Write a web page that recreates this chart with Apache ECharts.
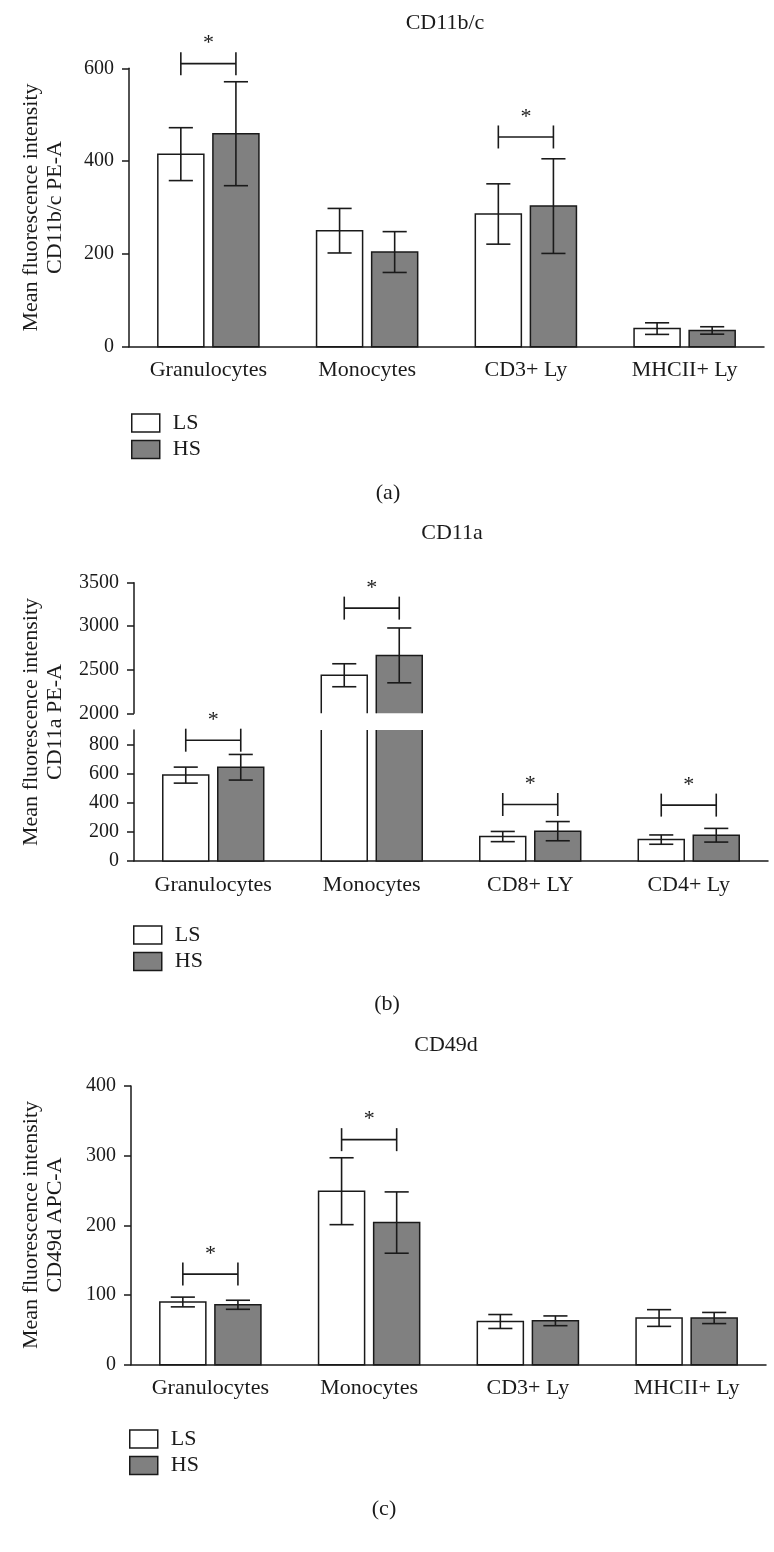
<!DOCTYPE html>
<html><head><meta charset="utf-8">
<script src="https://cdn.jsdelivr.net/npm/echarts@6/dist/echarts.min.js"></script>
<style>html,body{margin:0;padding:0;background:#fff}#c{width:774px;height:1552px}</style>
</head><body><div id="c"></div>
<script>
// ---------- data ----------
const catsA = ['Granulocytes', 'Monocytes', 'CD3+ Ly', 'MHCII+ Ly'];
const lsA = [415, 250, 286, 39];
const lsErrA = [57, 48, 65, 12.5];
const hsA = [459, 204, 303, 35];
const hsErrA = [112, 44, 102, 8];
const sigCatsA = [0, 2];
const sigLevelA = [610, 452];

const catsB = ['Granulocytes', 'Monocytes', 'CD8+ LY', 'CD4+ Ly'];
const lsB = [590, 2437, 168, 147];
const lsErrB = [55, 132, 35, 32];
const hsB = [644, 2665, 205, 177];
const hsErrB = [88, 315, 66, 47];
const sigCatsBLow = [0, 2, 3];
const sigLevelBLow = [830, 388, 384];
const sigCatsBUp = [1];
const sigLevelBUp = [3208];

const catsC = ['Granulocytes', 'Monocytes', 'CD3+ Ly', 'MHCII+ Ly'];
const lsC = [90, 249, 62, 67];
const lsErrC = [7, 48, 10, 12];
const hsC = [86, 204, 63, 67];
const hsErrC = [6.5, 44, 7, 8];
const sigCatsC = [0, 1];
const sigLevelC = [130, 323];

const ticksA = [0, 200, 400, 600];
const ticksBUp = [2000, 2500, 3000, 3500];
const ticksBLow = [0, 200, 400, 600, 800];
const ticksC = [0, 100, 200, 300, 400];

// ---------- style ----------
const FONT = 'Liberation Serif';
const INK = '#1a1a1a';
const GRAY = '#808080';
const OFF = 0.1735, BW = 0.29, CAP = 0.152, TICKH = 11.5;

function barSeries(name, g, vals, sign, fill, lo, hi) {
  return {
    type: 'custom', name, xAxisIndex: g, yAxisIndex: g, clip: false, silent: true, z: 3,
    itemStyle: { color: fill, borderColor: INK, borderWidth: 1.5 },
    data: vals.map((v, i) => [i, v]),
    renderItem(params, api) {
      const i = api.value(0), v = api.value(1);
      if (v <= lo) return null;
      const base = Math.max(0, lo), top = Math.min(v, hi);
      const band = api.size([1, 0])[0];
      const b = api.coord([i, base]), t = api.coord([i, top]);
      const cx = b[0] + sign * band * OFF, w = band * BW;
      const L = cx - w / 2, R = cx + w / 2, yb = b[1], yt = t[1];
      const openB = lo > 0, openT = v > hi;
      const ch = [];
      const ls = { stroke: INK, lineWidth: 1.5, fill: null };
      if (!openB && !openT) {
        ch.push({ type: 'rect', shape: { x: L, y: yt, width: w, height: yb - yt }, style: { fill, stroke: INK, lineWidth: 1.5 } });
      } else {
        ch.push({ type: 'rect', shape: { x: L, y: yt, width: w, height: yb - yt }, style: { fill, stroke: null } });
        let lines;
        if (!openT) lines = [[[L, yb], [L, yt], [R, yt], [R, yb]]];
        else if (!openB) lines = [[[L, yt], [L, yb], [R, yb], [R, yt]]];
        else lines = [[[L, yt], [L, yb]], [[R, yt], [R, yb]]];
        lines.forEach(p => ch.push({ type: 'polyline', shape: { points: p }, style: ls }));
      }
      return { type: 'group', children: ch };
    }
  };
}

function errSeries(g, means, errs, sign, lo, hi) {
  return {
    type: 'custom', xAxisIndex: g, yAxisIndex: g, clip: false, silent: true, z: 4,
    data: means.map((m, i) => [i, m, errs[i]]),
    renderItem(params, api) {
      const i = api.value(0), m = api.value(1), e = api.value(2);
      if (m < lo || m > hi) return null;
      const band = api.size([1, 0])[0];
      const t = api.coord([i, m + e]), b = api.coord([i, m - e]);
      const x = t[0] + sign * band * OFF, c = band * CAP / 2;
      const st = { stroke: INK, lineWidth: 1.6, fill: null };
      return { type: 'group', children: [
        { type: 'line', shape: { x1: x, y1: t[1], x2: x, y2: b[1] }, style: st },
        { type: 'line', shape: { x1: x - c, y1: t[1], x2: x + c, y2: t[1] }, style: st },
        { type: 'line', shape: { x1: x - c, y1: b[1], x2: x + c, y2: b[1] }, style: st }
      ] };
    }
  };
}

function sigSeries(g, cats, levels) {
  return {
    type: 'custom', xAxisIndex: g, yAxisIndex: g, clip: false, silent: true, z: 5,
    data: cats.map((c, k) => [c, levels[k]]),
    renderItem(params, api) {
      const p = api.coord([api.value(0), api.value(1)]);
      const band = api.size([1, 0])[0];
      const x1 = p[0] - band * OFF, x2 = p[0] + band * OFF, y = p[1];
      const st = { stroke: INK, lineWidth: 1.6, fill: null };
      return { type: 'group', children: [
        { type: 'line', shape: { x1, y1: y, x2, y2: y }, style: st },
        { type: 'line', shape: { x1, y1: y - TICKH, x2: x1, y2: y + TICKH }, style: st },
        { type: 'line', shape: { x1: x2, y1: y - TICKH, x2, y2: y + TICKH }, style: st },
        { type: 'text', style: { text: '*', x: p[0], y: y - 20, align: 'center', verticalAlign: 'middle', font: '22px "' + FONT + '"', fill: INK } }
      ] };
    }
  };
}

function xAxis(g, cats, show) {
  return {
    type: 'category', gridIndex: g, data: cats, show,
    axisLine: { lineStyle: { color: INK, width: 1.5 } },
    axisTick: { alignWithLabel: true, length: 6, lineStyle: { color: INK, width: 1.5 } },
    axisLabel: { fontFamily: FONT, fontSize: 22, color: INK, margin: 13 }
  };
}
function yAxis(g, ticks, max, hideMax) {
  return {
    type: 'value', gridIndex: g, min: ticks[0], max, interval: ticks[1] - ticks[0],
    splitLine: { show: false },
    axisLine: { show: true, lineStyle: { color: INK, width: 1.5 } },
    axisTick: { show: true, length: 7, lineStyle: { color: INK, width: 1.5 } },
    axisLabel: { fontFamily: FONT, fontSize: 20, color: INK, margin: 15, showMaxLabel: !hideMax,
      formatter: v => String(v) }
  };
}

function legend(left, top) {
  return {
    left, top, orient: 'vertical', padding: 0, itemGap: 4.5, itemWidth: 28, itemHeight: 18,
    icon: 'rect', selectedMode: false,
    textStyle: { fontFamily: FONT, fontSize: 22, color: INK, lineHeight: 18, padding: [0, 0, 0, 8] },
    data: [
      { name: 'LS', itemStyle: { color: '#ffffff', borderColor: INK, borderWidth: 1.5 } },
      { name: 'HS', itemStyle: { color: GRAY, borderColor: INK, borderWidth: 1.5 } }
    ]
  };
}

function txt(text, x, y, size, rot) {
  return { type: 'text', x, y, rotation: rot || 0,
    style: { text, fontFamily: FONT, fontSize: size, fill: INK, align: 'center', verticalAlign: 'middle', lineHeight: 24 } };
}

const option = {
  animation: false,
  backgroundColor: '#ffffff',
  grid: [
    { left: 129, top: 68.3, width: 635, height: 278.4 },
    { left: 134, top: 582.7, width: 634, height: 130.6 },
    { left: 134, top: 730, width: 634, height: 131 },
    { left: 131, top: 1086, width: 635, height: 278.7 }
  ],
  xAxis: [xAxis(0, catsA, true), xAxis(1, catsB, false), xAxis(2, catsB, true), xAxis(3, catsC, true)],
  yAxis: [yAxis(0, ticksA, 600), yAxis(1, ticksBUp, 3500), yAxis(2, ticksBLow, 900, true), yAxis(3, ticksC, 400)],
  legend: [legend(131, 412), legend(133, 924), legend(129, 1428)],
  series: [
    barSeries('LS', 0, lsA, -1, '#ffffff', 0, 600),
    barSeries('HS', 0, hsA, 1, GRAY, 0, 600),
    errSeries(0, lsA, lsErrA, -1, 0, 600),
    errSeries(0, hsA, hsErrA, 1, 0, 600),
    sigSeries(0, sigCatsA, sigLevelA),

    barSeries('LS', 1, lsB, -1, '#ffffff', 2000, 3500),
    barSeries('HS', 1, hsB, 1, GRAY, 2000, 3500),
    errSeries(1, lsB, lsErrB, -1, 2000, 3500),
    errSeries(1, hsB, hsErrB, 1, 2000, 3500),
    sigSeries(1, sigCatsBUp, sigLevelBUp),
    barSeries('LS', 2, lsB, -1, '#ffffff', 0, 900),
    barSeries('HS', 2, hsB, 1, GRAY, 0, 900),
    errSeries(2, lsB, lsErrB, -1, 0, 900),
    errSeries(2, hsB, hsErrB, 1, 0, 900),
    sigSeries(2, sigCatsBLow, sigLevelBLow),

    barSeries('LS', 3, lsC, -1, '#ffffff', 0, 400),
    barSeries('HS', 3, hsC, 1, GRAY, 0, 400),
    errSeries(3, lsC, lsErrC, -1, 0, 400),
    errSeries(3, hsC, hsErrC, 1, 0, 400),
    sigSeries(3, sigCatsC, sigLevelC)
  ],
  graphic: [
    txt('CD11b/c', 445, 23, 22),
    txt('CD11a', 452, 533, 22),
    txt('CD49d', 446, 1045, 22),
    txt('(a)', 388, 493, 22),
    txt('(b)', 387, 1004, 22),
    txt('(c)', 384, 1509, 22),
    txt('Mean fluorescence intensity\nCD11b/c PE-A', 43, 207.5, 22, Math.PI / 2),
    txt('Mean fluorescence intensity\nCD11a PE-A', 43, 722, 22, Math.PI / 2),
    txt('Mean fluorescence intensity\nCD49d APC-A', 43, 1225, 22, Math.PI / 2)
  ]
};
const chart = echarts.init(document.getElementById('c'), null, { renderer: 'canvas' });
chart.setOption(option);
</script></body></html>
